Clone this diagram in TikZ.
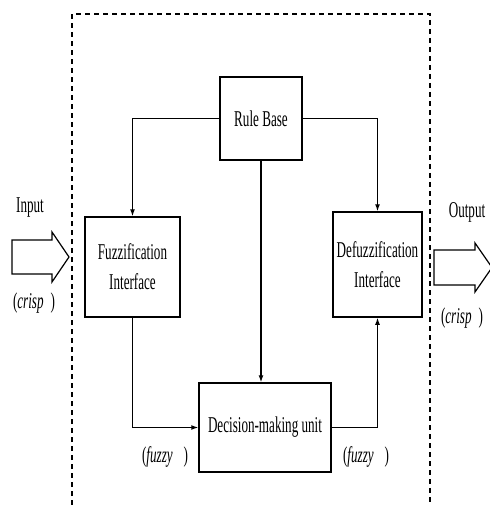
\documentclass[tikz,border=0pt]{standalone}
\usepackage{fontspec}
\newfontfamily\condfont[FakeStretch=0.58]{Liberation Serif}
\usetikzlibrary{arrows.meta}
\begin{document}
\begin{tikzpicture}[x=1pt,y=-1pt,
  txt/.style={font=\condfont\fontsize{22.6}{30}\selectfont, inner sep=0pt, align=center},
  blockbox/.style={txt, draw, line width=1.5pt, fill=white},
  conn/.style={line width=1.2pt, -{Latex[length=7pt,width=5pt]}},
  plainconn/.style={line width=1.2pt},
  frame/.style={line width=1.2pt, dash pattern=on 5pt off 4pt},
  blockarrow/.style={line width=1.2pt, fill=white, line join=miter}]
\useasboundingbox (0,0) rectangle (489,505);
% dashed frame
\draw[frame] (72,505) -- (72,14) -- (430,14) -- (430,505);
% boxes
\node[blockbox, minimum width=82pt, minimum height=83pt] (rb) at (261,118.5) {Rule Base};
\node[blockbox, minimum width=95pt, minimum height=100pt] (fz) at (132.5,267) {Fuzzification\\Interface};
\node[blockbox, minimum width=89pt, minimum height=105pt] (dz) at (377.5,264.5) {Defuzzification\\Interface};
\node[blockbox, minimum width=132pt, minimum height=89pt] (dm) at (265,427.5) {Decision-making unit};
% connectors
\draw[conn] (rb.west) -| (fz.north);
\draw[conn] (rb.east) -| (dz.north);
\draw[conn] (rb.south) -- (rb.south |- dm.north);
\draw[conn] (fz.south) |- (dm.west);
\draw[conn] (dm.east) -| (dz.south);
% block arrows
\draw[blockarrow] (12,240) -- (52,240) -- (52,232) -- (69,257) -- (52,282) -- (52,274) -- (12,274) -- cycle;
\draw[blockarrow] (434,250) -- (475,250) -- (475,243) -- (492,267.5) -- (475,292) -- (475,285) -- (434,285) -- cycle;
% labels
\node[txt] (in) at (30,208) {Input};
\node[txt] (cin) at (34,303) {(\textit{crisp}\, )};
\node[txt] (out) at (467,212) {Output};
\node[txt] (cout) at (462,318) {(\textit{crisp}\, )};
\node[txt] (fl) at (165,457) {(\textit{fuzzy}\,\, )};
\node[txt] (fr) at (366,457) {(\textit{fuzzy}\,\, )};
\end{tikzpicture}
\end{document}
